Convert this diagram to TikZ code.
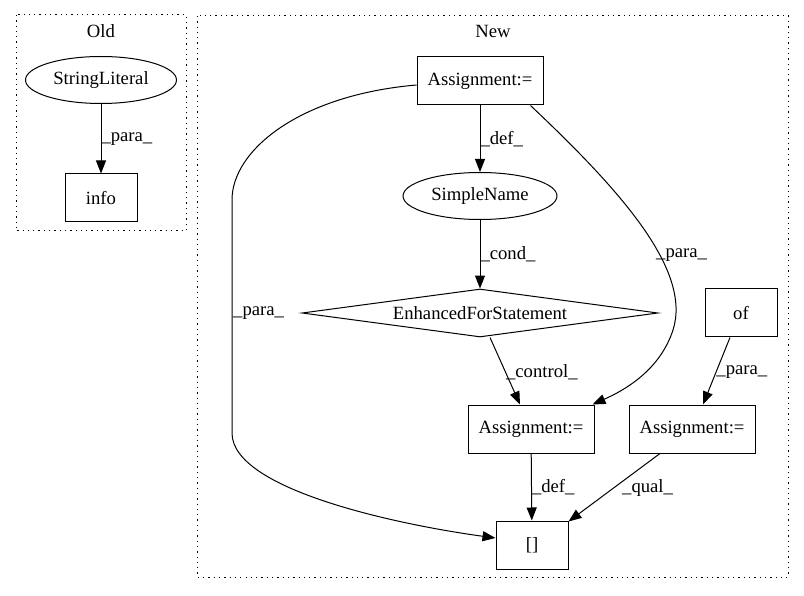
\documentclass[tikz,border=0pt]{standalone}
\usepackage{fontspec}
\setmainfont{Liberation Serif}
\usepackage{tikz}
\usetikzlibrary{positioning}
\usetikzlibrary{shapes.geometric,arrows.meta}

\begin{document}
\begin{tikzpicture}
                [x=1pt, y=-1pt,
                 every node/.style = {font=\fontsize{18.67}{22}\selectfont, inner sep=0pt},
                 box/.style = {draw, line width=1pt, rectangle, minimum width=72pt, minimum height=48pt},
                 oval/.style = {draw, line width=1pt, ellipse, minimum height=47pt},
                 diam/.style = {draw, line width=1pt, diamond, aspect=7.4, minimum width=356pt, minimum height=48pt},
                 lbl/.style = {anchor=west},
                 edge/.style = {->, line width=1pt, >={Triangle[length=13pt,width=10pt]}},
                 cluster/.style = {line width=1pt, dash pattern=on 1.3pt off 4pt}]

                \useasboundingbox (0,0) rectangle (804,596);

                % clusters
                \draw[cluster] (16,15) rectangle (186,231);
                \node (oldlbl) at (101,31) {Old};
                \draw[cluster] (197,16) rectangle (788,577);
                \node (newlbl) at (493,31) {New};

                \node[oval, minimum width=151pt] (strlit) at (101,80) {StringLiteral};
                \node[box] (info) at (101,198) {info};

                \node[box, minimum width=126pt] (assign1) at (480,81) {Assignment:=};
                \node[oval, minimum width=154pt] (simple) at (480,196) {SimpleName};
                \node[diam] (efs) at (480,313) {EnhancedForStatement};
                \node[box] (of) at (741,313) {of};
                \node[box, minimum width=126pt] (assign2) at (531,429) {Assignment:=};
                \node[box, minimum width=126pt] (assign3) at (692,429) {Assignment:=};
                \node[box] (arr) at (532,545) {[]};

                \draw[edge] (strlit) to node[lbl] {\_para\_} (info);
                \draw[edge] (assign1) to node[lbl] {\_def\_} (simple);
                \draw[edge] (simple) to node[lbl] {\_cond\_} (efs);
                \draw[edge] ([xshift=10pt]efs.south) to node[lbl, pos=0.52] {\_control\_} ([xshift=-11pt]assign2.north);
                \draw[edge] ([xshift=-11pt]of.south) to node[lbl, pos=0.52] {\_para\_} ([xshift=11pt]assign3.north);
                \draw[edge] (assign2) to node[lbl] {\_def\_} (arr);
                \draw[edge] ([xshift=-32pt]assign3.south) to ([yshift=-1pt]arr.north east);
                \node[lbl] (quallbl) at (622,488) {\_qual\_};

                \draw[edge] ([yshift=-4pt]assign1.west) .. controls (300,95) and (232,150) .. (232,200)
                    -- (232,433) .. controls (232,490) and (400,525) .. ([yshift=7pt]arr.west);
                \node[lbl] (paralbl1) at (233,313) {\_para\_};
                \draw[edge] ([xshift=-13pt]assign1.south east) .. controls (620,190) and (692,270) .. (673,330)
                    .. controls (660,370) and (625,390) .. ([xshift=-2pt]assign2.north east);
                \node[lbl] (paralbl2) at (656,255) {\_para\_};
            \end{tikzpicture}
\end{document}
